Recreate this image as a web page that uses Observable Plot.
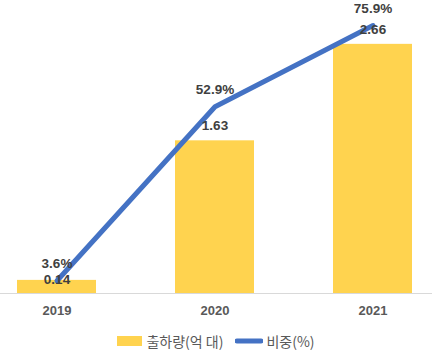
<!DOCTYPE html>
<html><head><meta charset="utf-8">
<script src="https://cdn.jsdelivr.net/npm/d3@7"></script>
<script src="https://cdn.jsdelivr.net/npm/@observablehq/plot@0.6"></script>
<style>
body{margin:0;background:#fff;font-family:"Liberation Sans",Arial,"Noto Sans CJK KR",sans-serif;}
#chart{width:432px;height:360px;position:relative;}
.legend{display:flex;justify-content:center;align-items:center;gap:12px;font-family:"Noto Sans CJK KR",sans-serif;font-size:14px;color:#595959;margin-top:6px;}
.legend span{display:flex;align-items:center;}
</style></head><body><div id="chart"></div>
<script>
const years = ["2019","2020","2021"];
const shipments = [0.14, 1.63, 2.66];
const shares = [3.6, 52.9, 75.9];
const shipmentLabels = ["0.14","1.63","2.66"];
const shareLabels = ["3.6%","52.9%","75.9%"];

const data = years.map((y,i)=>({year:y, v:shipments[i], p:shares[i], vl:shipmentLabels[i], pl:shareLabels[i], i}));
const k = 3/79.6; // secondary axis (0–79.6%) onto primary (0–3)

const plot = Plot.plot({
  width: 432, height: 325,
  marginLeft: 0, marginRight: 0, marginTop: 12, marginBottom: 32,
  x: {domain: years, range: [17, 412], paddingInner: 0.5, paddingOuter: 0, label: null},
  y: {domain: [0, 3], axis: null},
  style: {fontFamily: '"Liberation Sans",Arial,sans-serif'},
  marks: [
    Plot.barY(data, {x: "year", y: "v", fill: "#FFD34F"}),
    Plot.ruleY([0], {stroke: "#D9D9D9", strokeWidth: 1}),
    Plot.axisX({tickSize: 0, tickPadding: 12, fontSize: 13, fontWeight: "bold", fill: "#595959", label: null}),
    Plot.line(data, {x: "year", y: d => d.p * k, stroke: "#4472C4", strokeWidth: 5, strokeLinejoin: "round"}),
    Plot.text(data.filter(d => d.i > 0), {x: "year", y: "v", text: "vl", dy: -15, fontSize: 13.5, fontWeight: "bold", fill: "#404040"}),
    Plot.text(data.filter(d => d.i === 0), {x: "year", y: "v", text: "vl", dy: -1, fontSize: 13.5, fontWeight: "bold", fill: "#404040"}),
    Plot.text(data, {x: "year", y: d => d.p * k, text: "pl", dy: -17, fontSize: 13.5, fontWeight: "bold", fill: "#404040"})
  ]
});
document.getElementById("chart").appendChild(plot);
const leg = document.createElement("div");
leg.className = "legend";
leg.innerHTML = '<span><svg width="25" height="10" style="margin-right:4px"><rect width="25" height="10" fill="#FFD34F"/></svg>출하량(억 대)</span>' +
  '<span><svg width="28" height="10" style="margin-right:3px"><line x1="2" y1="5" x2="26" y2="5" stroke="#4472C4" stroke-width="5" stroke-linecap="round"/></svg>비중(%)</span>';
document.getElementById("chart").appendChild(leg);
</script></body></html>
